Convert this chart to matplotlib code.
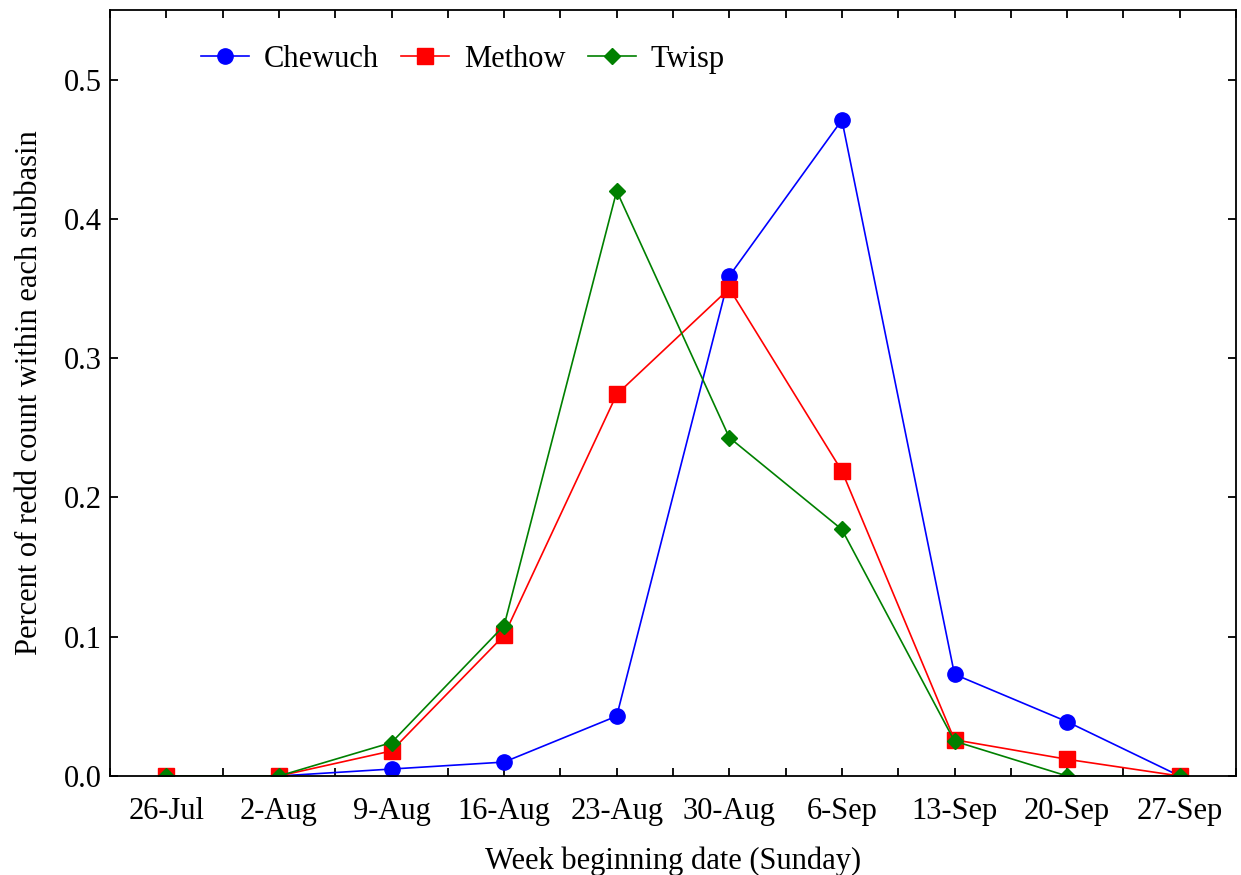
import numpy as np
import matplotlib
matplotlib.use('Agg')
import matplotlib.pyplot as plt
from matplotlib.ticker import MultipleLocator

plt.rcParams['font.family'] = ['Liberation Serif', 'DejaVu Serif']

weeks = ['26-Jul', '2-Aug', '9-Aug', '16-Aug', '23-Aug', '30-Aug',
         '6-Sep', '13-Sep', '20-Sep', '27-Sep']
chewuch = [0.0, 0.0, 0.005, 0.010, 0.043, 0.359, 0.471, 0.073, 0.039, 0.0]
methow = [0.0, 0.0, 0.018, 0.101, 0.274, 0.350, 0.219, 0.026, 0.012, 0.0]
twisp = [0.0, 0.0, 0.024, 0.108, 0.420, 0.243, 0.177, 0.025, 0.0, 0.0]

fig = plt.figure(figsize=(12.41, 8.75), dpi=100)
ax = fig.add_axes([110 / 1241, 1 - 776 / 875, 1126 / 1241, 766 / 875])

x = np.arange(len(weeks))
ax.plot(x, chewuch, color='blue', marker='o', markersize=11, linewidth=1.2, label='Chewuch')
ax.plot(x, methow, color='red', marker='s', markersize=11, linewidth=1.2, label='Methow')
ax.plot(x, twisp, color='green', marker='D', markersize=8, linewidth=1.2, label='Twisp')

ax.set_xlim(-0.5, 9.5)
ax.set_ylim(0, 0.55)
ax.set_xticks(x)
ax.set_xticklabels(weeks)
ax.xaxis.set_minor_locator(MultipleLocator(0.5))
ax.yaxis.set_major_locator(MultipleLocator(0.1))
ax.yaxis.set_major_formatter(matplotlib.ticker.FormatStrFormatter('%.1f'))

ax.tick_params(which='both', direction='in', top=True, right=True, labelsize=22, width=1.3)
ax.tick_params(which='major', length=6)
ax.tick_params(which='minor', length=6)
ax.tick_params(axis='x', pad=15)
ax.tick_params(axis='y', pad=6)
for s in ax.spines.values():
    s.set_linewidth(1.3)

ax.set_xlabel('Week beginning date (Sunday)', fontsize=22, labelpad=15)
ax.set_ylabel('Percent of redd count within each subbasin', fontsize=22, labelpad=14)

ax.legend(loc='upper left', ncol=3, frameon=False, fontsize=22, bbox_to_anchor=(0.056, 0.99),
          handlelength=1.57, columnspacing=0.72, handletextpad=0.5)

plt.savefig('out.png', dpi=100)
